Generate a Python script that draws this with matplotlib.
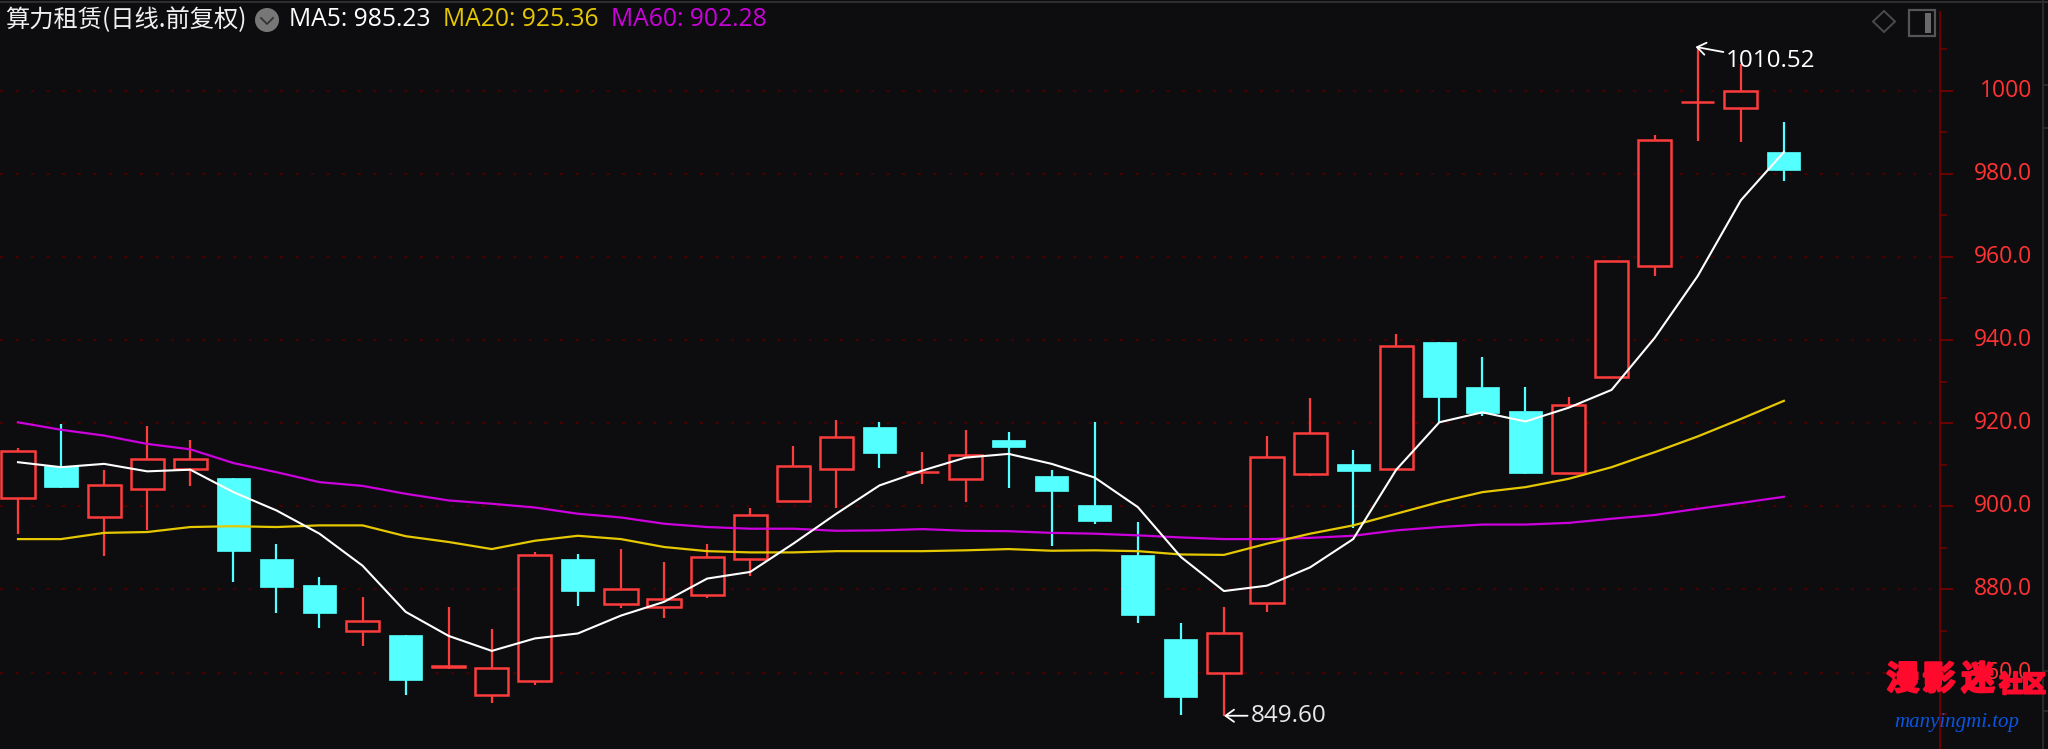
import matplotlib
matplotlib.use("Agg")
import matplotlib.pyplot as plt
import matplotlib.patheffects as pe
from matplotlib.patches import Rectangle, Polygon, Circle

plt.rcParams['font.family'] = ['Noto Sans CJK SC', 'DejaVu Sans']

opens = [902.1, 909.7, 897.3, 904.1, 908.9, 906.9, 887.2, 881.0, 870.0, 869.0, 861.4, 854.6, 857.9, 887.2,
         876.6, 875.7, 878.6, 887.2, 901.2, 908.9, 919.0, 908.2, 906.5, 916.0, 907.4, 900.2, 888.2, 868.0,
         859.8, 876.7, 907.8, 910.2, 908.9, 939.6, 928.6, 922.8, 907.9, 931.0, 957.8, 997.2, 995.9, 985.3]
closes = [913.3, 904.6, 905.1, 911.3, 911.3, 889.3, 880.6, 874.4, 872.5, 858.1, 861.5, 861.0, 888.2, 879.7,
          880.1, 877.7, 887.8, 897.9, 909.8, 916.6, 912.8, 908.2, 912.3, 914.2, 903.7, 896.5, 873.9, 854.2,
          869.5, 911.8, 917.6, 908.5, 938.6, 926.2, 922.4, 908.0, 924.3, 958.9, 988.2, 997.3, 1000.0, 980.9]
highs = [914.1, 919.8, 908.8, 919.4, 916.0, 906.9, 891.0, 882.9, 878.1, 869.0, 875.7, 870.4, 889.0, 888.6,
         889.6, 886.7, 891.0, 899.7, 914.6, 920.8, 920.3, 913.1, 918.4, 917.9, 908.8, 920.3, 896.3, 871.8,
         875.7, 917.0, 926.1, 913.6, 941.4, 939.6, 935.8, 928.6, 926.2, 958.9, 989.4, 1010.52, 1006.3, 992.5]
lows = [893.3, 904.4, 888.1, 894.2, 904.9, 881.8, 874.2, 870.8, 866.5, 854.5, 860.8, 852.6, 856.9, 876.1,
        875.6, 873.2, 878.0, 883.3, 901.2, 899.6, 909.2, 905.4, 901.0, 904.4, 890.5, 895.8, 871.8, 849.7,
        849.6, 874.6, 907.3, 894.8, 908.9, 920.2, 921.7, 907.8, 907.9, 931.0, 955.3, 987.8, 987.6, 978.3]
ma5 = [910.6, 909.4, 910.2, 908.4, 908.8, 903.4, 899.0, 893.4, 885.7, 874.6, 868.8, 865.2, 868.2, 869.4,
       873.7, 877.0, 882.6, 884.2, 891.0, 898.2, 905.0, 908.6, 911.7, 912.6, 910.2, 906.9, 899.8, 887.8,
       879.6, 880.9, 885.3, 892.1, 908.8, 920.2, 922.6, 920.4, 923.7, 928.0, 940.5, 955.4, 973.6, 985.23]
ma20 = [892.1, 892.1, 893.6, 893.8, 895.0, 895.2, 895.0, 895.4, 895.4, 892.8, 891.4, 889.7, 891.7, 892.9,
        892.1, 890.2, 889.2, 888.9, 888.9, 889.2, 889.2, 889.2, 889.4, 889.7, 889.3, 889.4, 889.2, 888.4,
        888.3, 891.0, 893.4, 895.4, 898.2, 901.0, 903.4, 904.6, 906.6, 909.4, 913.0, 916.8, 921.0, 925.36]
ma60 = [920.2, 918.4, 917.0, 915.0, 913.7, 910.4, 908.2, 905.8, 904.9, 903.0, 901.4, 900.6, 899.7, 898.2,
        897.3, 895.8, 895.0, 894.6, 894.6, 894.1, 894.2, 894.5, 894.1, 894.0, 893.6, 893.4, 893.0, 892.5,
        892.1, 892.1, 892.4, 892.9, 894.2, 895.0, 895.6, 895.6, 896.0, 897.0, 897.9, 899.4, 900.8, 902.28]
major_ticks = [860, 880, 900, 920, 940, 960, 980, 1000]
minor_ticks = [850, 870, 890, 910, 930, 950, 970, 990, 1010]
tick_labels = ['860.0', '880.0', '900.0', '920.0', '940.0', '960.0', '980.0', '1000']

BG = '#0d0d10'
RED = '#ff3c3c'
CYAN = '#54ffff'
GRID = '#4c0000'
AXIS = '#6e0000'
W, H = 2048, 749

fig = plt.figure(figsize=(W / 100, H / 100), dpi=100, facecolor=BG)
ax = fig.add_axes([0, 0, 1940 / W, 1], facecolor=BG)
ax.set_xlim(-0.418, 44.625)
ax.set_ylim(841.6, 1021.8)
for s in ['top', 'left', 'bottom']:
    ax.spines[s].set_visible(False)
ax.spines['right'].set_color(AXIS)
ax.spines['right'].set_linewidth(1.4)
ax.spines['right'].set_bounds(841.6, 1019)
ax.set_xticks([])
ax.yaxis.tick_right()
ax.set_yticks(major_ticks)
ax.set_yticks(minor_ticks, minor=True)
ax.set_yticklabels([])
ax.tick_params(axis='y', which='major', length=9.4, width=1.4, color=AXIS)
ax.tick_params(axis='y', which='minor', length=5, width=1.2, color=AXIS)
for v in major_ticks:
    ax.axhline(v, color=GRID, lw=1.4, ls=(0, (1.5, 6.5)), zorder=1)

width = 0.77
for i, (o, c, h, l) in enumerate(zip(opens, closes, highs, lows)):
    up = c >= o
    col = RED if up else CYAN
    ax.vlines(i, l, h, color=col, lw=1.6, zorder=2)
    lo, hi = min(o, c), max(o, c)
    if up:
        ax.add_patch(Rectangle((i - width / 2, lo), width, hi - lo, fc=BG, ec=col, lw=1.8, zorder=3))
    else:
        ax.add_patch(Rectangle((i - width / 2, lo), width, hi - lo, fc=col, ec=col, lw=0.5, zorder=3))

x = list(range(len(ma5)))
ax.plot(x, ma60, color='#cc00dd', lw=1.6, zorder=4)
ax.plot(x, ma20, color='#e6c800', lw=1.6, zorder=5)
ax.plot(x, ma5, color='#ffffff', lw=1.5, zorder=6)

arrow = dict(arrowstyle='->,head_length=0.35,head_width=0.25', color='white', lw=1.3, shrinkA=0, shrinkB=0)
ax.annotate('1010.52', xy=(38.95, 1010.52), xytext=(22, -10), textcoords='offset points', color='white',
            fontsize=17.5, family=['Open Sans'], va='center', ha='left',
            arrowprops=arrow, zorder=8)
ax.annotate('849.60', xy=(28, 849.6), xytext=(19, 0), textcoords='offset points', color='#e8e8e8',
            fontsize=17.5, family=['Open Sans'], va='center', ha='left',
            arrowprops=arrow, zorder=8)

for v, t in zip(major_ticks, tick_labels):
    ax.annotate(t, xy=(1, v), xycoords=('axes fraction', 'data'), xytext=(2032 - 1940, 0),
                textcoords='offset pixels', color='#ff3232', fontsize=16.5, family=['Open Sans'],
                ha='right', va='center', zorder=7)

# header text
def ftext(px, py, s, **kw):
    fig.text(px / W, 1 - py / H, s, va='center', ha='left', **kw)

ftext(5, 20, '算力租赁(日线.前复权)', color='#f0f0f0', fontsize=17.5)
ftext(289, 20, 'MA5: 985.23', color='#ffffff', fontsize=17.7, family=['Open Sans'])
ftext(443, 20, 'MA20: 925.36', color='#e6c800', fontsize=17.7, family=['Open Sans'])
ftext(611, 20, 'MA60: 902.28', color='#cc00dd', fontsize=17.7, family=['Open Sans'])

# overlay for UI decoration in pixel coordinates
ov = fig.add_axes([0, 0, 1, 1], facecolor='none')
ov.set_xlim(0, W)
ov.set_ylim(H, 0)
ov.axis('off')
ov.add_patch(Circle((267, 20), 12, fc='#777777', ec='none'))
ov.plot([261, 267, 273], [18, 24, 18], color='#333333', lw=1.3)
ov.add_patch(Polygon([(1884, 11), (1895, 21.5), (1884, 32), (1873, 21.5)], fc='none', ec='#4a4a4a', lw=1.4))
ov.add_patch(Rectangle((1909, 10), 26, 26, fc='none', ec='#555555', lw=1.6))
ov.add_patch(Rectangle((1925, 13), 6, 20, fc='#6a6a6a', ec='none'))
ov.plot([2043, 2043], [0, H], color='#2e2e2e', lw=1.2)
ov.plot([0, 2048], [2, 2], color='#2e2e2e', lw=1.4)
for yy in (85, 128, 671, 711):
    ov.plot([2043, 2048], [yy, yy], color='#2e2e2e', lw=1.2)

heavy = [pe.withStroke(linewidth=1.6, foreground='#ff0a2d')]
for cx, ch in zip((1903, 1939, 1978), '漫影迷'):
    ov.text(cx, 680, ch, color='#ff0a2d', fontsize=24, fontweight='black', va='center', ha='center',
            zorder=9, path_effects=heavy)
for cx, ch in zip((2011, 2034), '社区'):
    ov.text(cx, 685, ch, color='#ff0a2d', fontsize=17, fontweight='black', va='center', ha='center',
            zorder=9, path_effects=heavy)
ov.text(1894, 722, 'manyingmi.top', color='#0a55e0', fontsize=15, style='italic',
        family=['Liberation Serif'], va='center', ha='left')

fig.savefig('out.png', dpi=100, facecolor=BG)
